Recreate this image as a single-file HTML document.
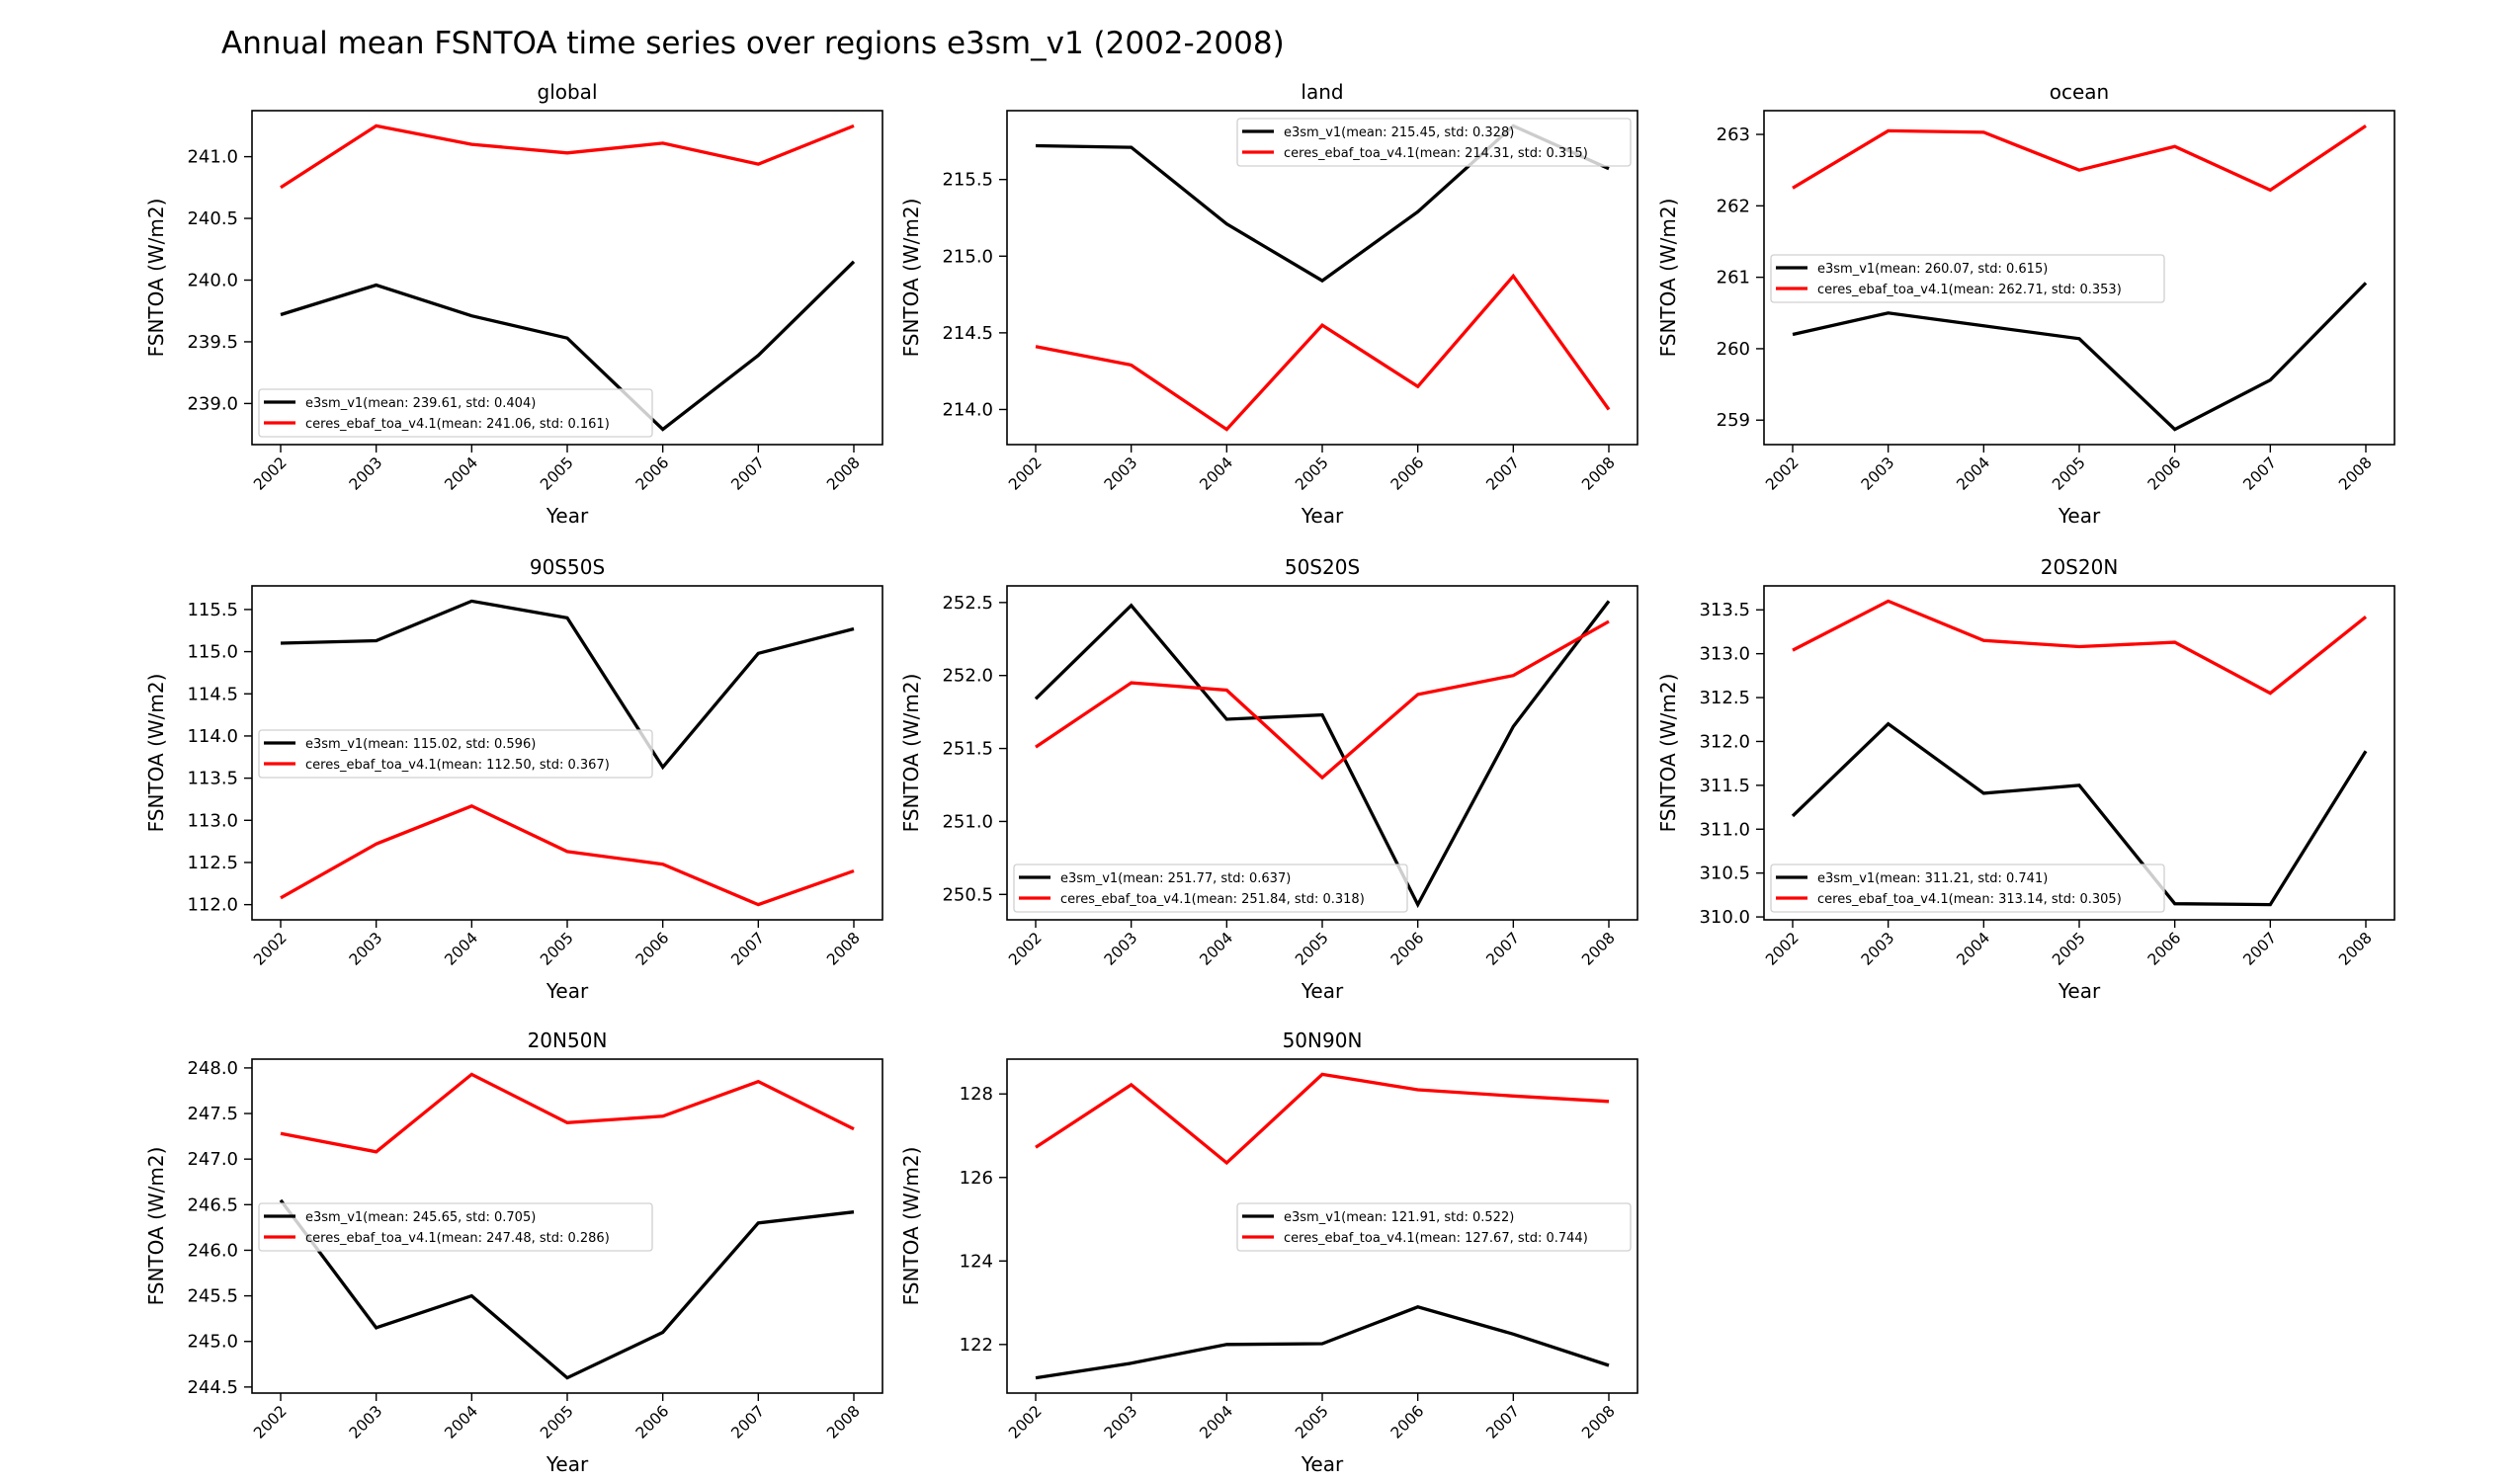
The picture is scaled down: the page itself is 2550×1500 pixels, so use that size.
<!DOCTYPE html>
<html><head><meta charset="utf-8">
<style>
html,body{margin:0;padding:0;background:#fff;}
svg{display:block;font-family:"DejaVu Sans","Liberation Sans",sans-serif;}
</style></head>
<body>
<svg id="fig" width="2550" height="1500" viewBox="0 0 2550 1500" xmlns="http://www.w3.org/2000/svg">
<rect width="2550" height="1500" fill="#fff"/>
<text x="224" y="54" font-size="31" fill="#000">Annual mean FSNTOA time series over regions e3sm_v1 (2002-2008)</text>
</svg>
<script>
const years = [2002, 2003, 2004, 2005, 2006, 2007, 2008];
const regions = ["global", "land", "ocean", "90S50S", "50S20S", "20S20N", "20N50N", "50N90N"];
const modelValues = [
  [239.72, 239.96, 239.71, 239.53, 238.79, 239.39, 240.15],
  [215.72, 215.71, 215.21, 214.84, 215.29, 215.85, 215.57],
  [260.20, 260.50, 260.32, 260.14, 258.87, 259.56, 260.92],
  [115.10, 115.13, 115.60, 115.40, 113.63, 114.98, 115.27],
  [251.84, 252.48, 251.70, 251.73, 250.43, 251.65, 252.51],
  [311.15, 312.20, 311.41, 311.50, 310.15, 310.14, 311.89],
  [246.55, 245.15, 245.50, 244.60, 245.10, 246.30, 246.42],
  [121.20, 121.55, 122.00, 122.02, 122.90, 122.25, 121.50]
];
const obsValues = [
  [240.75, 241.25, 241.10, 241.03, 241.11, 240.94, 241.25],
  [214.41, 214.29, 213.87, 214.55, 214.15, 214.87, 214.00],
  [262.25, 263.05, 263.03, 262.50, 262.83, 262.22, 263.12],
  [112.08, 112.72, 113.17, 112.63, 112.48, 112.00, 112.40],
  [251.51, 251.95, 251.90, 251.30, 251.87, 252.00, 252.37],
  [313.04, 313.60, 313.15, 313.08, 313.13, 312.55, 313.42],
  [247.28, 247.08, 247.93, 247.40, 247.47, 247.85, 247.33],
  [126.72, 128.22, 126.35, 128.47, 128.10, 127.95, 127.82]
];
const yTicks = [
  [239.0, 239.5, 240.0, 240.5, 241.0],
  [214.0, 214.5, 215.0, 215.5],
  [259, 260, 261, 262, 263],
  [112.0, 112.5, 113.0, 113.5, 114.0, 114.5, 115.0, 115.5],
  [250.5, 251.0, 251.5, 252.0, 252.5],
  [310.0, 310.5, 311.0, 311.5, 312.0, 312.5, 313.0, 313.5],
  [244.5, 245.0, 245.5, 246.0, 246.5, 247.0, 247.5, 248.0],
  [122, 124, 126, 128]
];
const tickDecimals = [1, 1, 0, 1, 1, 1, 1, 0];
const modelLegend = ["e3sm_v1(mean: 239.61, std: 0.404)", "e3sm_v1(mean: 215.45, std: 0.328)", "e3sm_v1(mean: 260.07, std: 0.615)", "e3sm_v1(mean: 115.02, std: 0.596)", "e3sm_v1(mean: 251.77, std: 0.637)", "e3sm_v1(mean: 311.21, std: 0.741)", "e3sm_v1(mean: 245.65, std: 0.705)", "e3sm_v1(mean: 121.91, std: 0.522)"];
const obsLegend = ["ceres_ebaf_toa_v4.1(mean: 241.06, std: 0.161)", "ceres_ebaf_toa_v4.1(mean: 214.31, std: 0.315)", "ceres_ebaf_toa_v4.1(mean: 262.71, std: 0.353)", "ceres_ebaf_toa_v4.1(mean: 112.50, std: 0.367)", "ceres_ebaf_toa_v4.1(mean: 251.84, std: 0.318)", "ceres_ebaf_toa_v4.1(mean: 313.14, std: 0.305)", "ceres_ebaf_toa_v4.1(mean: 247.48, std: 0.286)", "ceres_ebaf_toa_v4.1(mean: 127.67, std: 0.744)"];
const legendLoc = ["lowerleft", "upperright", "centerleft", "centerleft", "lowerleft", "lowerleft", "centerleft", "centerright"];

const NS = "http://www.w3.org/2000/svg";
const svg = document.getElementById("fig");
function mk(tag, attrs, parent) {
  const e = document.createElementNS(NS, tag);
  for (const k in attrs) e.setAttribute(k, attrs[k]);
  (parent || svg).appendChild(e);
  return e;
}
const colLeft = [255, 1019, 1785];
const rowTop = [112, 593, 1072];
const W = 638, H = 338;

regions.forEach((reg, i) => {
  const L = colLeft[i % 3], T = rowTop[Math.floor(i / 3)], R = L + W, B = T + H;
  const g = mk("g", {});
  
  
  const all = modelValues[i].concat(obsValues[i]);
  let mn = Math.min(...all), mx = Math.max(...all);
  const pad = (mx - mn) * 0.05; mn -= pad; mx += pad;
  const y0 = years[0], y1 = years[years.length - 1], xp = (y1 - y0) * 0.05;
  const sx = v => L + (v - (y0 - xp)) / ((y1 + xp) - (y0 - xp)) * W;
  const sy = v => B - (v - mn) / (mx - mn) * H;

  const title = mk("text", {x: (L + R) / 2, y: T - 12, "font-size": 20, "text-anchor": "middle"}, g);
  title.textContent = reg;
  
  

  yTicks[i].forEach(t => {
    const y = sy(t);
    const tk = mk("line", {x1: L - 8, x2: L, y1: y, y2: y, stroke: "#000", "stroke-width": 1.4}, g);
    
    
    const lb = mk("text", {x: L - 14, y: y + 6, "font-size": 18, "text-anchor": "end"}, g);
    lb.textContent = t.toFixed(tickDecimals[i]);
    
    
  });
  years.forEach(yr => {
    const x = sx(yr);
    const tk = mk("line", {x1: x, x2: x, y1: B, y2: B + 8, stroke: "#000", "stroke-width": 1.4}, g);
    
    
    const lb = mk("text", {x: x + 7, y: B + 19, "font-size": 15.5, "text-anchor": "end", transform: `rotate(-45 ${x + 7} ${B + 19})`}, g);
    lb.textContent = yr;
    
    
  });
  const xl = mk("text", {x: (L + R) / 2, y: B + 79, "font-size": 20, "text-anchor": "middle"}, g);
  xl.textContent = "Year";
  
  
  const ylx = L - 90, yly = (T + B) / 2;
  const yl = mk("text", {x: ylx, y: yly, "font-size": 20, "text-anchor": "middle", transform: `rotate(-90 ${ylx} ${yly})`}, g);
  yl.textContent = "FSNTOA (W/m2)";
  
  

  [[modelValues[i], "#000", "model"], [obsValues[i], "#ff0000", "obs"]].forEach(([vals, col, nm]) => {
    const pts = vals.map((v, k) => sx(years[k]).toFixed(1) + "," + sy(v).toFixed(1)).join(" ");
    const pl = mk("polyline", {points: pts, fill: "none", stroke: col, "stroke-width": 3.3, "stroke-linejoin": "miter"}, g);
    
    
  });

  const fr = mk("rect", {x: L, y: T, width: W, height: H, fill: "none", stroke: "#000", "stroke-width": 1.6}, g);
  
  

  const lw = 398, lh = 48;
  let lx = L + 7, ly;
  const loc = legendLoc[i];
  if (loc === "lowerleft") ly = B - 8 - lh;
  else if (loc === "upperright") { lx = R - 7 - lw; ly = T + 8; }
  else if (loc === "centerright") { lx = R - 7 - lw; ly = T + 146; }
  else ly = T + 146;
  const lg = mk("g", {}, g);
  
  
  mk("rect", {x: lx, y: ly, width: lw, height: lh, rx: 3, fill: "#fff", "fill-opacity": 0.8, stroke: "#d0d0d0", "stroke-width": 1.3}, lg);
  [[modelLegend[i], "#000", 13], [obsLegend[i], "#ff0000", 34]].forEach(([txt, col, dy]) => {
    const ln = mk("line", {x1: lx + 5, x2: lx + 37, y1: ly + dy, y2: ly + dy, stroke: col, "stroke-width": 3.3}, lg);
    
    
    const t = mk("text", {x: lx + 47, y: ly + dy + 5, "font-size": 13}, lg);
    t.textContent = txt;
    
    
  });
});
</script>
</body></html>
